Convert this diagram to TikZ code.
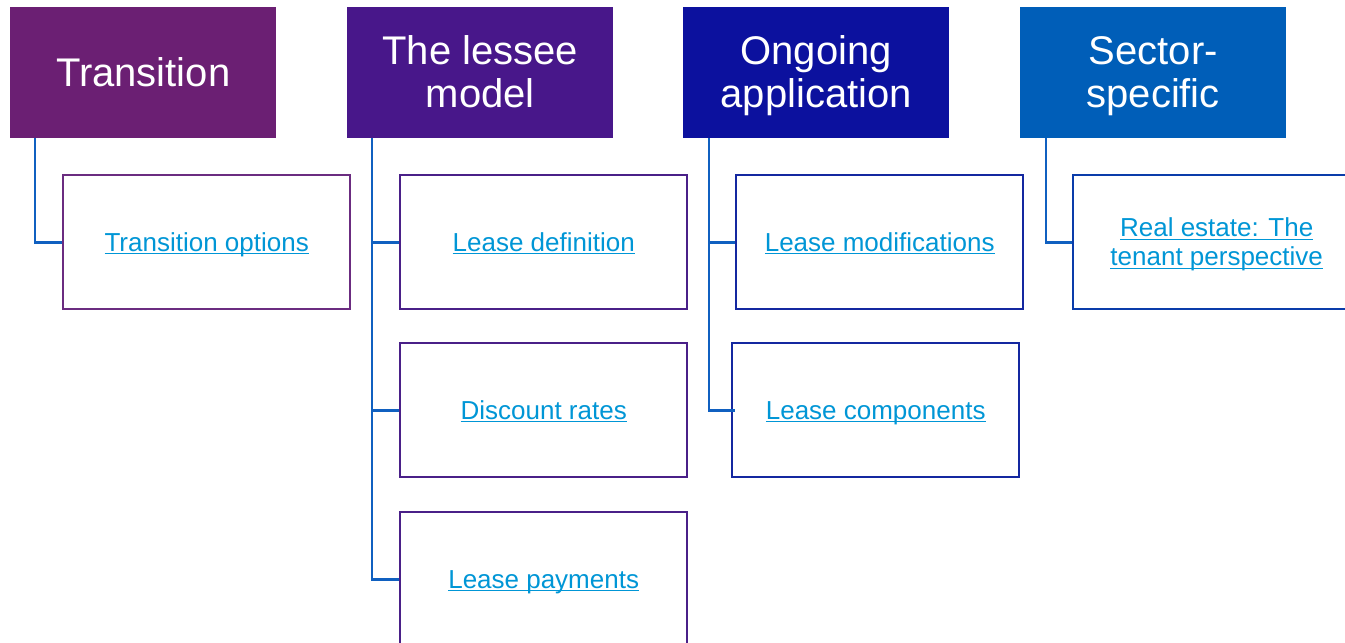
\documentclass[tikz,border=0pt]{standalone}
\usepackage{fontspec}
\setmainfont{Liberation Sans}
\definecolor{hA}{HTML}{6B1F73}
\definecolor{hB}{HTML}{48178A}
\definecolor{hC}{HTML}{0C119E}
\definecolor{hD}{HTML}{005EB8}
\definecolor{bA}{HTML}{6B2C80}
\definecolor{bB}{HTML}{4A2088}
\definecolor{bC}{HTML}{1428A0}
\definecolor{bD}{HTML}{0A3CAA}
\definecolor{lnkc}{HTML}{0096D6}
\definecolor{connc}{HTML}{1060C0}
\newcommand\lnk[1]{\leavevmode\setbox0\hbox{#1}\smash{\rlap{\raisebox{-3.2pt}{\color{lnkc}\rule{\wd0}{1.4pt}}}\box0}\rule[-1pt]{0pt}{20pt}}
\newcommand\hl[1]{\leavevmode\smash{#1}\rule[-2pt]{0pt}{31pt}}
\begin{document}
\begin{tikzpicture}[x=1pt,y=-1pt,
  hdr/.style={fill=#1, draw=none, text=white, anchor=north west, minimum width=266pt, minimum height=131pt, inner sep=0pt, align=center, font=\fontsize{40}{43}\selectfont},
  child/.style={draw=#1, line width=2.4pt, fill=white, anchor=north west, minimum width=287pt, minimum height=134pt, inner sep=0pt, align=center, text=lnkc, font=\fontsize{26}{29}\selectfont},
  conn/.style={draw=connc, line width=2.8pt}]
\useasboundingbox (0,0) rectangle (1345,643);
\fill[white] (0,0) rectangle (1345,643);
% headers
\node[hdr=hA] (h1) at (10,7) {\hl{Transition}};
\node[hdr=hB] (h2) at (347,7) {\hl{The lessee}\\\hl{model}};
\node[hdr=hC] (h3) at (683,7) {\hl{Ongoing}\\\hl{application}};
\node[hdr=hD] (h4) at (1020,7) {\hl{Sector-}\\\hl{specific}};
% children
\node[child=bA] (c1) at (62,174) {\lnk{Transition options}};
\node[child=bB] (c2) at (399,174) {\lnk{Lease definition}};
\node[child=bB] (c3) at (399,342) {\lnk{Discount rates}};
\node[child=bB] (c4) at (399,511) {\lnk{Lease payments}};
\node[child=bC] (c5) at (735,174) {\lnk{Lease modifications}};
\node[child=bC] (c6) at (731,342) {\lnk{Lease components}};
\node[child=bD] (c7) at (1072,174) {\lnk{Real estate: The}\\\lnk{tenant perspective}};
% connectors
\draw[conn] ([xshift=25pt]h1.south west) |- (c1.west);
\draw[conn] ([xshift=25pt]h2.south west) |- (c4.west);
\draw[conn] ([xshift=25pt]h2.south west) |- (c2.west);
\draw[conn] ([xshift=25pt]h2.south west) |- (c3.west);
\draw[conn] ([xshift=26pt]h3.south west) |- ([xshift=4pt]c6.west);
\draw[conn] ([xshift=26pt]h3.south west) |- (c5.west);
\draw[conn] ([xshift=26pt]h4.south west) |- (c7.west);
\end{tikzpicture}
\end{document}
